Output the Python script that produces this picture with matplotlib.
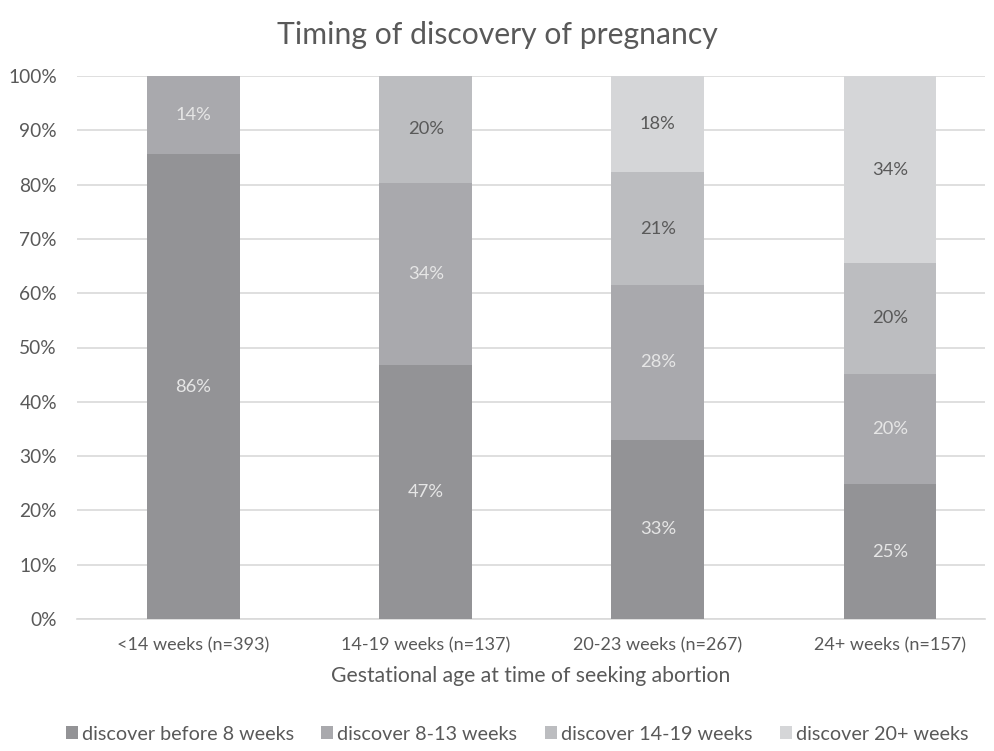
import matplotlib
matplotlib.use("Agg")
import matplotlib.pyplot as plt
import numpy as np

categories = ["<14 weeks (n=393)", "14-19 weeks (n=137)", "20-23 weeks (n=267)", "24+ weeks (n=157)"]
series_names = ["discover before 8 weeks", "discover 8-13 weeks", "discover 14-19 weeks", "discover 20+ weeks"]
before8 = [85.6, 46.7, 33.0, 24.8]
w8_13 = [14.4, 33.6, 28.5, 20.4]
w14_19 = [0.0, 19.7, 20.8, 20.3]
w20plus = [0.0, 0.0, 17.7, 34.5]
labels_before8 = ["86%", "47%", "33%", "25%"]
labels_8_13 = ["14%", "34%", "28%", "20%"]
labels_14_19 = ["", "20%", "21%", "20%"]
labels_20plus = ["", "", "18%", "34%"]

colors = ["#939396", "#a9a9ad", "#bcbdc0", "#d5d6d8"]
label_colors = ["#e6e6e6", "#e6e6e6", "#595959", "#595959"]
txt = "#595959"

plt.rcParams['font.family'] = ['Lato', 'DejaVu Sans']
fig = plt.figure(figsize=(9.95, 7.51), dpi=100)
ax = fig.add_axes([77/995, 1-619/751, (985-77)/995, (619-76)/751])

x = np.arange(len(categories))
data = [before8, w8_13, w14_19, w20plus]
labs = [labels_before8, labels_8_13, labels_14_19, labels_20plus]
bottom = np.zeros(len(categories))
for vals, lab, c, lc, name in zip(data, labs, colors, label_colors, series_names):
    vals = np.array(vals)
    ax.bar(x, vals, 0.40, bottom=bottom, color=c, label=name, zorder=3)
    for xi, b, v, t in zip(x, bottom, vals, lab):
        if t:
            ax.text(xi, b + v/2, t, ha='center', va='center', color=lc, fontsize=13.2, zorder=4)
    bottom += vals

ax.set_ylim(0, 100)
ax.set_xlim(-0.502, 3.409)
ax.set_yticks(np.arange(0, 101, 10))
ax.set_yticklabels([f"{v}%" for v in range(0, 101, 10)])
ax.set_xticks(x)
ax.set_xticklabels(categories)
ax.yaxis.grid(True, color="#d9d9d9", linewidth=1.2, zorder=0)
ax.set_axisbelow(True)
for s in ["top", "right", "left"]:
    ax.spines[s].set_visible(False)
ax.spines["bottom"].set_color("#d9d9d9")
ax.spines["bottom"].set_linewidth(1.2)
ax.tick_params(axis='both', length=0, colors=txt)
ax.tick_params(axis='y', pad=14.4, labelsize=13.8)
ax.tick_params(axis='x', pad=13, labelsize=13.0)
ax.set_xlabel("Gestational age at time of seeking abortion", color=txt, fontsize=15.2, labelpad=9)
fig.text(0.5, 1-35/751, "Timing of discovery of pregnancy", ha='center', va='center', color=txt, fontsize=21.7)

handles, lbls = ax.get_legend_handles_labels()
fig.legend(handles, lbls, loc='center', bbox_to_anchor=(517/995, 1-734/751), ncol=4, frameon=False,
           fontsize=14.2, labelcolor=txt, handlelength=0.6, handleheight=0.6, handletextpad=0.2, columnspacing=1.4)

fig.savefig("out.png", dpi=100)
